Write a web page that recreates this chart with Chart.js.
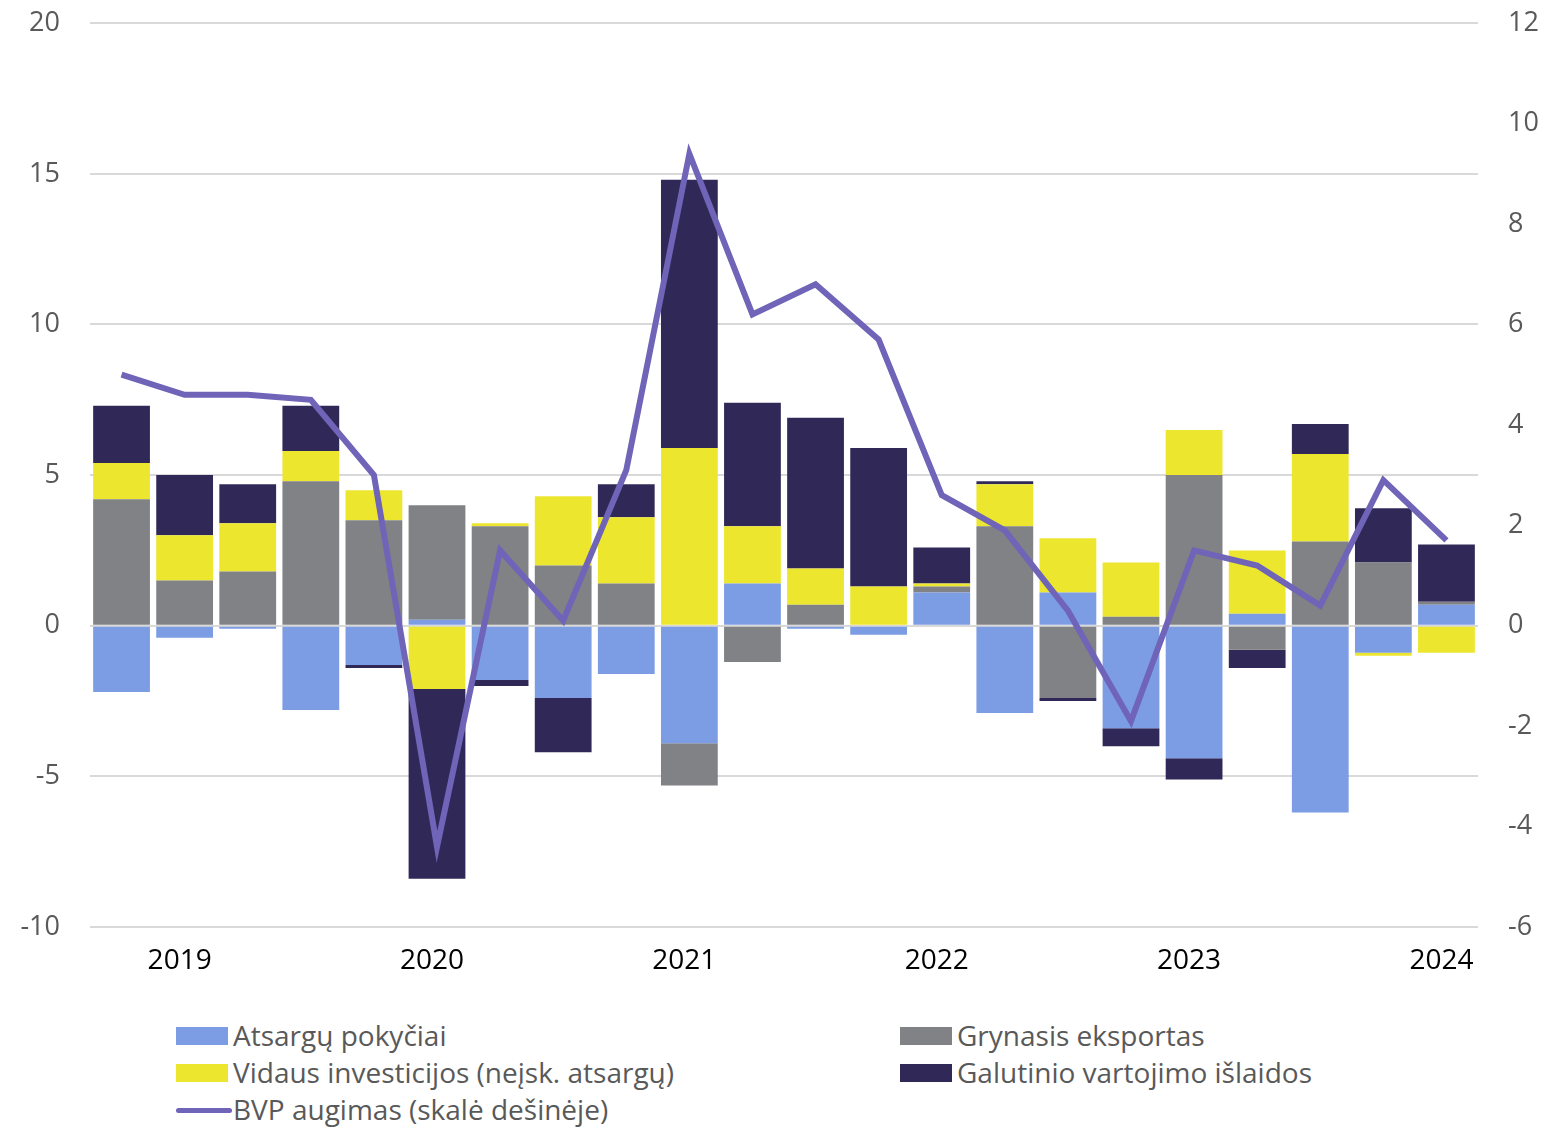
<!DOCTYPE html>
<html>
<head>
<meta charset="utf-8">
<script src="https://cdn.jsdelivr.net/npm/chart.js@4"></script>
<style>
  body { margin: 0; background: #fff; width: 1567px; height: 1127px; position: relative; overflow: hidden; }
  #wrap { position: absolute; left: 0; top: -23px; width: 1567px; height: 1010px; }
  .leg { position: absolute; font-family: "Open Sans", sans-serif; font-size: 28px; color: #595959; line-height: 30px; white-space: nowrap; }
  .box { position: absolute; width: 52px; height: 18px; top: 6px; left: 0; }
  .ln { position: absolute; width: 56px; height: 5px; top: 13px; left: 0; border-radius: 3px; }
  .leg span.t { position: absolute; left: 57px; top: -1px; }
</style>
</head>
<body>
<div id="wrap"><canvas id="chart"></canvas></div>

<div class="leg" style="left:176px; top:1021px;"><div class="box" style="background:#7c9ce4"></div><span class="t">Atsargų pokyčiai</span></div>
<div class="leg" style="left:900px; top:1021px;"><div class="box" style="background:#808285"></div><span class="t">Grynasis eksportas</span></div>
<div class="leg" style="left:176px; top:1058px;"><div class="box" style="background:#ece62f"></div><span class="t">Vidaus investicijos (neįsk. atsargų)</span></div>
<div class="leg" style="left:900px; top:1058px;"><div class="box" style="background:#302958"></div><span class="t">Galutinio vartojimo išlaidos</span></div>
<div class="leg" style="left:176px; top:1095px;"><div class="ln" style="background:#6f64b8"></div><span class="t">BVP augimas (skalė dešinėje)</span></div>

<script>
// quarters 2019 Q1 .. 2024 Q2, year label on the 2nd quarter
let labels = ["", "2019", "", "", "", "2020", "", "", "", "2021", "", "", "", "2022", "", "", "", "2023", "", "", "", "2024"];

let atsargu = [-2.2, -0.4, -0.1, -2.8, -1.3, 0.2, -1.8, -2.4, -1.6, -3.9, 1.4, -0.1, -0.3, 1.1, -2.9, 1.1, -3.4, -4.4, 0.4, -6.2, -0.9, 0.7];
let grynasis = [4.2, 1.5, 1.8, 4.8, 3.5, 3.8, 3.3, 2.0, 1.4, -1.4, -1.2, 0.7, 0, 0.2, 3.3, -2.4, 0.3, 5.0, -0.8, 2.8, 2.1, 0.1];
let vidaus = [1.2, 1.5, 1.6, 1.0, 1.0, -2.1, 0.1, 2.3, 2.2, 5.9, 1.9, 1.2, 1.3, 0.1, 1.4, 1.8, 1.8, 1.5, 2.1, 2.9, -0.1, -0.9];
let galutinio = [1.9, 2.0, 1.3, 1.5, -0.1, -6.3, -0.2, -1.8, 1.1, 8.9, 4.1, 5.0, 4.6, 1.2, 0.1, -0.1, -0.6, -0.7, -0.6, 1.0, 1.8, 1.9];
let bvp = [5.0, 4.6, 4.6, 4.5, 3.0, -4.4, 1.5, 0.1, 3.1, 9.4, 6.2, 6.8, 5.7, 2.6, 1.9, 0.3, -1.9, 1.5, 1.2, 0.4, 2.9, 1.7];

let leftTicks = { min: -10, max: 20, step: 5 };
let rightTicks = { min: -6, max: 12, step: 2 };

Chart.defaults.font.family = "'Open Sans', sans-serif";
Chart.defaults.animation = false;

function bar(label, data, color) {
  return {
    type: "bar",
    label: label,
    data: data,
    backgroundColor: color,
    borderWidth: 0,
    yAxisID: "y",
    order: 1,
    categoryPercentage: 0.9,
    barPercentage: 1
  };
}

new Chart(document.getElementById("chart"), {
  type: "bar",
  data: {
    labels: labels,
    datasets: [
      {
        type: "line",
        label: "BVP augimas (skalė dešinėje)",
        data: bvp,
        borderColor: "#6f64b8",
        borderWidth: 6,
        pointRadius: 0,
        tension: 0,
        yAxisID: "y1",
        order: 0
      },
      bar("Atsargų pokyčiai", atsargu, "#7c9ce4"),
      bar("Grynasis eksportas", grynasis, "#808285"),
      bar("Vidaus investicijos (neįsk. atsargų)", vidaus, "#ece62f"),
      bar("Galutinio vartojimo išlaidos", galutinio, "#302958")
    ]
  },
  options: {
    responsive: true,
    maintainAspectRatio: false,
    layout: { padding: { top: 0, bottom: 0, left: 0, right: 0 } },
    plugins: { legend: { display: false }, tooltip: { enabled: false } },
    scales: {
      x: {
        stacked: true,
        grid: { display: false, drawTicks: false },
        border: { display: false },
        ticks: {
          autoSkip: false,
          maxRotation: 0,
          padding: 17,
          labelOffset: -5,
          color: "#000",
          font: { size: 28 }
        },
        afterFit: function(s) { s.height = 60; }
      },
      y: {
        stacked: true,
        position: "left",
        min: leftTicks.min,
        max: leftTicks.max,
        ticks: { stepSize: leftTicks.step, padding: 30, color: "#595959", font: { size: 27 } },
        grid: { color: "#d9d9d9", lineWidth: 2, drawTicks: false },
        border: { display: false },
        afterFit: function(s) { s.width = 90; }
      },
      y1: {
        position: "right",
        min: rightTicks.min,
        max: rightTicks.max,
        ticks: { stepSize: rightTicks.step, padding: 30, color: "#595959", font: { size: 27 } },
        grid: { display: false, drawTicks: false },
        border: { display: false },
        afterFit: function(s) { s.width = 89; }
      }
    }
  }
});
</script>
</body>
</html>
